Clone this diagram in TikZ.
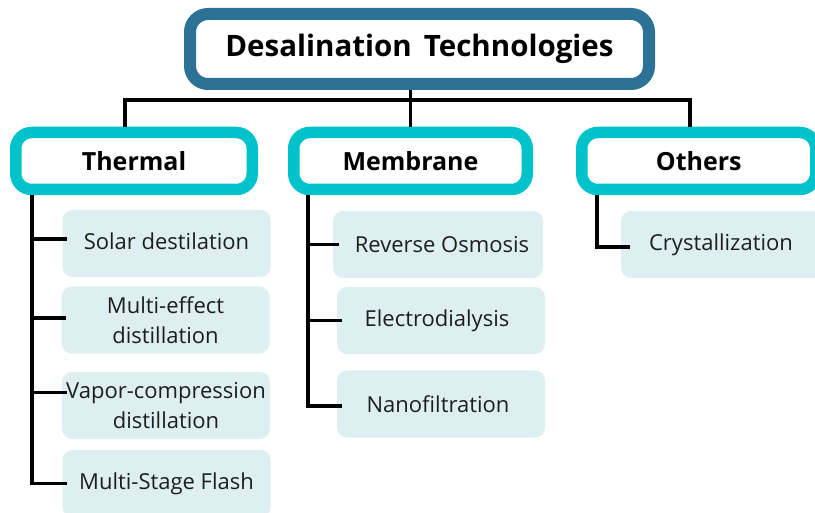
\documentclass[tikz,border=0pt]{standalone}
\usepackage{fontspec}
\setmainfont{Open Sans}
\usepackage{tikz}
\usetikzlibrary{positioning}

\definecolor{titleblue}{RGB}{44,114,150}
\definecolor{catcyan}{RGB}{0,194,203}
\definecolor{subfill}{RGB}{198,228,230}
\definecolor{subtext}{RGB}{30,30,30}

\begin{document}
\begin{tikzpicture}[x=1pt, y=-1pt,
    titlebox/.style={rectangle, rounded corners=18pt, draw=titleblue, line width=12pt, fill=white,
        minimum width=459pt, minimum height=70pt, font=\fontsize{29.5}{34}\selectfont\bfseries},
    catbox/.style={rectangle, rounded corners=16pt, draw=catcyan, line width=11.5pt, fill=white,
        minimum height=57pt, font=\fontsize{25}{30}\selectfont\bfseries},
    subbox/.style={rectangle, rounded corners=10pt, fill=subfill, fill opacity=0.6, text opacity=1,
        text=subtext, minimum width=208pt, minimum height=67pt, align=center,
        font=\fontsize{22}{30}\selectfont},
    conn/.style={draw=black, line width=3.8pt}]
    \useasboundingbox (0,0) rectangle (815,513);
    \clip (0,0) rectangle (815,513);

    %Nodes
    \node[titlebox] (title) at (419.5,49) {\raisebox{-3pt}{Desalination\hspace{0.15em} Technologies}};
    \node[catbox, minimum width=236.5pt] (therm) at (134,161) {Thermal};
    \node[catbox, minimum width=233.5pt] (memb) at (410.5,161) {Membrane};
    \node[catbox, minimum width=234pt] (oth) at (698.75,161) {Others};

    \coordinate (busL) at (125,100);
    \coordinate (busR) at (690,100);
    \coordinate (thtop) at ([xshift=22pt]therm.south west);
    \coordinate (mbtop) at ([xshift=20pt]memb.south west);
    \coordinate (ottop) at ([xshift=21pt]oth.south west);

    % %Lines
    \draw[conn] (busL |- therm.north) -- (busL) -- (busR) -- (busR |- oth.north);
    \draw[conn] (memb.north |- title.south) -- (memb.north);

    \node[subbox] (solar) at (166.5,243.5) {\raisebox{4pt}{Solar destilation}};
    \node[subbox] (med) at (165.5,320) {Multi-effect\\distillation};
    \node[subbox] (vapor) at (166,405.5) {Vapor-compression\\distillation};
    \node[subbox] (flash) at (166.5,483.5) {Multi-Stage Flash};
    \node[subbox, minimum width=210pt] (ro) at (438,244.5) {Reverse Osmosis\hspace{-8pt}};
    \node[subbox] (edial) at (441,320.5) {Electrodialysis\hspace{8pt}};
    \node[subbox] (nano) at (441,404) {Nanofiltration\hspace{6pt}};
    \node[subbox] (cryst) at (725,244.5) {Crystallization\hspace{8pt}};

    \draw[conn] (thtop) |- ([xshift=5pt,yshift=4.5pt]solar.west);
    \draw[conn] (thtop) |- ([xshift=5pt,yshift=2pt]med.west);
    \draw[conn] (thtop) |- ([xshift=5pt,yshift=13pt]vapor.west);
    \draw[conn] (thtop) |- ([xshift=5pt]flash.west);
    \draw[conn] (mbtop) |- ([xshift=6pt]ro.west);
    \draw[conn] (mbtop) |- ([xshift=5pt]edial.west);
    \draw[conn] (mbtop) |- ([xshift=5pt,yshift=-2pt]nano.west);
    \draw[conn] (ottop) |- ([xshift=9pt,yshift=-2.5pt]cryst.west);
\end{tikzpicture}
\end{document}
